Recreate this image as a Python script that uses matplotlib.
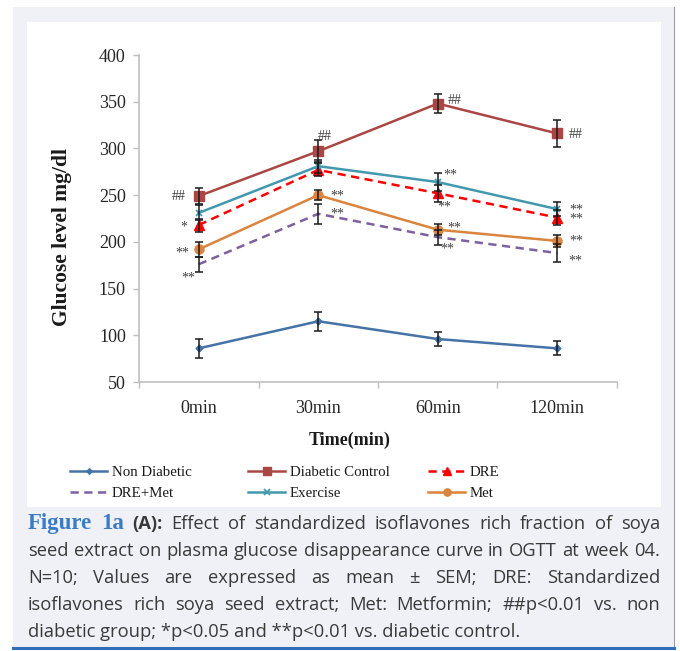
import matplotlib
matplotlib.use('Agg')
import matplotlib.pyplot as plt
from matplotlib.lines import Line2D
from matplotlib.patches import Rectangle
import numpy as np

# data (mean, SEM) in mg/dl
times = ['0min', '30min', '60min', '120min']
non_diabetic = [86, 115, 96, 86]
non_diabetic_sem = [10, 10, 7.5, 7.5]
diabetic_control = [249, 297, 348, 316]
diabetic_control_sem = [9, 12, 10, 14]
dre = [218, 277, 252, 226]
dre_sem = [7, 7, 9, 8]
dre_met = [176, 230, 205, 188]
dre_met_sem = [8, 11, 8, 10]
exercise = [231, 281, 264, 235]
exercise_sem = [8, 7, 10, 7.5]
met = [192, 250, 213, 201]
met_sem = [8, 5.5, 6, 6.5]

# significance marks: (series, time index, label)
marks = [
    ('Diabetic Control', 0, '##'), ('DRE', 0, '*'), ('Met', 0, '**'), ('DRE+Met', 0, '**'),
    ('Diabetic Control', 1, '##'), ('Met', 1, '**'), ('DRE+Met', 1, '**'),
    ('Diabetic Control', 2, '##'), ('Exercise', 2, '**'), ('DRE', 2, '**'),
    ('Met', 2, '**'), ('DRE+Met', 2, '**'),
    ('Diabetic Control', 3, '##'), ('Exercise', 3, '**'), ('DRE', 3, '**'),
    ('Met', 3, '**'), ('DRE+Met', 3, '**'),
]
# where each mark sits relative to its point (pixels, screen: right / down)
mark_offsets = [(-20, 0), (-15, 0), (-16, 2), (-10, 12),
                (6, -15), (19, -1), (19, -2),
                (17, -3), (13, -9), (7, 12), (17, -4), (10, 10),
                (19, 1), (19, -1), (19, -1), (19, -2), (18, 6)]

W, H = 680, 651
def fx(px):
    return px / W
def fy(py):
    return 1 - py / H

serif = 'Liberation Serif'
txt = '#3a3a3a'

fig = plt.figure(figsize=(6.8, 6.51), dpi=100)
fig.patch.set_facecolor('white')

# page-like frame
fig.patches.append(Rectangle((fx(13), fy(648)), fx(674) - fx(13), fy(7) - fy(648),
                             transform=fig.transFigure, facecolor='#f0f1f7', edgecolor='none', zorder=-2))
fig.patches.append(Rectangle((fx(27), fy(507)), fx(661) - fx(27), fy(22) - fy(507),
                             transform=fig.transFigure, facecolor='white', edgecolor='none', zorder=-1))
fig.lines.append(Line2D([fx(674), fx(674)], [fy(648), fy(7)], transform=fig.transFigure,
                        color='#9a9a9a', lw=0.8))
fig.lines.append(Line2D([fx(13), fx(674)], [fy(648), fy(648)], transform=fig.transFigure,
                        color='#2f6fb8', lw=2.2))

ax = fig.add_axes([fx(139), fy(382), fx(617) - fx(139), fy(55) - fy(382)])
ax.set_facecolor('none')

series = [
    ('Non Diabetic', non_diabetic, non_diabetic_sem,
     dict(color='#4572a7', marker='D', ms=3.5, ls='-')),
    ('Diabetic Control', diabetic_control, diabetic_control_sem,
     dict(color='#aa4643', marker='s', ms=6.5, ls='-')),
    ('DRE', dre, dre_sem,
     dict(color='#ff0000', marker='^', ms=7, ls=(0, (3.3, 2.2)))),
    ('DRE+Met', dre_met, dre_met_sem,
     dict(color='#7d60a0', marker='None', ms=0, ls=(0, (3.3, 2.2)))),
    ('Exercise', exercise, exercise_sem,
     dict(color='#4198af', marker='x', ms=5, mew=1.2, ls='-')),
    ('Met', met, met_sem,
     dict(color='#db843d', marker='o', ms=6.5, ls='-')),
]

x = np.arange(len(times))
points = {}
handles = {}
for name, vals, sem, st in series:
    ax.errorbar(x, vals, yerr=sem, fmt='none', ecolor='#1a1a1a', elinewidth=1.1,
                capsize=2.7, capthick=1.1, zorder=3)
    ln, = ax.plot(x, vals, lw=1.8, zorder=2, **st)
    points[name] = vals
    handles[name] = ln

for (name, i, lab), (dx, dy) in zip(marks, mark_offsets):
    if '*' in lab:
        dy += 2  # asterisks sit high in the glyph box
    ax.annotate(lab, (x[i], points[name][i]), xytext=(dx, -dy), textcoords='offset pixels',
                ha='center', va='center', fontsize=10, family=serif, color='#404040')

ax.set_xlim(-0.5, len(times) - 0.5)
ax.set_ylim(50, 400)
ax.set_yticks(range(50, 401, 50))
ax.set_xticks(x)
ax.set_xticklabels(times)
ax.set_xticks(np.arange(-0.5, len(times), 1), minor=True)
ax.tick_params(axis='x', which='major', length=0, pad=13)
ax.tick_params(axis='x', which='minor', length=4.5, color='#bfbfbf', width=1)
ax.tick_params(axis='y', length=4.5, color='#bfbfbf', width=1, pad=5)
for lbl in ax.get_xticklabels() + ax.get_yticklabels():
    lbl.set_family(serif)
    lbl.set_fontsize(13)
    lbl.set_color('#262626')
for s in ['top', 'right']:
    ax.spines[s].set_visible(False)
for s in ['left', 'bottom']:
    ax.spines[s].set_color('#bfbfbf')
    ax.spines[s].set_linewidth(1.2)

fig.text(fx(350), fy(440), 'Time(min)', ha='center', va='center', family=serif,
         fontweight='bold', fontsize=13, color='#1a1a1a')
fig.text(fx(62), fy(237), 'Glucose level mg/dl', ha='center', va='center', rotation=90,
         family=serif, fontweight='bold', fontsize=15.5, color='#1a1a1a')

# legend, three fixed-width columns
cols = [(72, ['Non Diabetic', 'DRE+Met']),
        (250, ['Diabetic Control', 'Exercise']),
        (430, ['DRE', 'Met'])]
for px, names in cols:
    fig.legend([handles[n] for n in names], names, loc='upper left',
               bbox_to_anchor=(fx(px - 8), fy(460)), frameon=False,
               prop=dict(family=serif, size=10.7), handlelength=2.5, handletextpad=0.3,
               labelspacing=0.5, borderaxespad=0, markerscale=0.8, labelcolor='#1a1a1a')

# caption, justified like the journal layout
rend = fig.canvas.get_renderer()
cap_font = 'Open Sans'
probe = fig.text(0, 0, 'seed extract on plasma glucose disappearance curve in OGTT at week 04.',
                 family=cap_font, fontsize=10)
cap_size = 10 * 626 / probe.get_window_extent(rend).width
probe.remove()

body = dict(family=cap_font, fontsize=cap_size, color=txt)
blue = dict(family=serif, fontsize=16.5, color='#3b7bc4', fontweight='bold')
bold = dict(family=cap_font, fontsize=cap_size, color=txt, fontweight='bold')
lines = [
    [('Figure', blue), ('1a', blue), ('(A):', bold)] +
    [(w, body) for w in 'Effect of standardized isoflavones rich fraction of soya'.split()],
    [(w, body) for w in 'seed extract on plasma glucose disappearance curve in OGTT at week 04.'.split()],
    [(w, body) for w in 'N=10; Values are expressed as mean \u00b1 SEM; DRE: Standardized'.split()],
    [(w, body) for w in 'isoflavones rich soya seed extract; Met: Metformin; ##p<0.01 vs. non'.split()],
]
baselines = [529, 556, 583, 610]
for words, yb in zip(lines, baselines):
    objs = [fig.text(0, fy(yb), t, ha='left', va='baseline', **p) for t, p in words]
    widths = [o.get_window_extent(rend).width for o in objs]
    gap = (660 - 28 - sum(widths)) / (len(objs) - 1)
    xp = 28
    for o, w in zip(objs, widths):
        o.set_x(fx(xp))
        xp += w + gap
fig.text(fx(28), fy(637), 'diabetic group; *p<0.05 and **p<0.01 vs. diabetic control.',
         ha='left', va='baseline', **body)

fig.savefig('out.png', dpi=100)
